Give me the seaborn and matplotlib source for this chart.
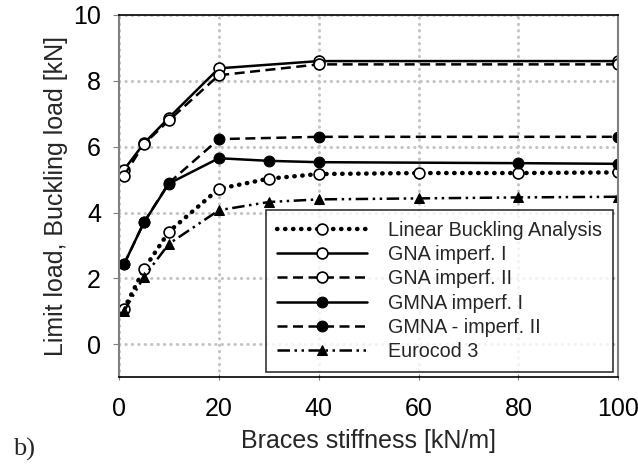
import matplotlib
matplotlib.use("Agg")
import matplotlib.pyplot as plt
import seaborn as sns
import numpy as np

sns.set_style("white")
plt.rcParams['font.family'] = ['Liberation Sans', 'DejaVu Sans']

# Data
x_lba = [1, 5, 10, 20, 30, 40, 60, 80, 100]
y_lba = [1.07, 2.28, 3.42, 4.72, 5.03, 5.17, 5.2, 5.2, 5.22]
x_gna1 = [1, 5, 10, 20, 40, 100]
y_gna1 = [5.3, 6.1, 6.88, 8.38, 8.6, 8.6]
x_gna2 = [1, 5, 10, 20, 40, 100]
y_gna2 = [5.12, 6.08, 6.8, 8.17, 8.5, 8.5]
x_gmna1 = [1, 5, 10, 20, 30, 40, 80, 100]
y_gmna1 = [2.43, 3.7, 4.88, 5.65, 5.57, 5.53, 5.5, 5.48]
x_gmna2 = [1, 5, 10, 20, 40, 100]
y_gmna2 = [2.43, 3.7, 4.9, 6.23, 6.3, 6.3]
x_ec3 = [1, 5, 10, 20, 30, 40, 60, 80, 100]
y_ec3 = [1.0, 2.05, 3.05, 4.07, 4.32, 4.4, 4.43, 4.46, 4.48]

labels = ["Linear Buckling Analysis", "GNA imperf. I", "GNA imperf. II",
          "GMNA imperf. I", "GMNA - imperf. II", "Eurocod 3"]

fig = plt.figure(figsize=(6.38, 4.68), dpi=100)
ax = fig.add_axes([0.1865, 0.194, 0.969 - 0.1865, 0.968 - 0.194])

ms = 7.8
dotted = (0, (0.1, 1.7))
series = [
    (x_lba, y_lba, dict(linestyle=dotted, lw=3.2, dash_capstyle='round', marker='o', mfc='white', mec='black', mew=1.2)),
    (x_gna1, y_gna1, dict(linestyle='-', lw=1.8, marker='o', mfc='white', mec='black', mew=1.2)),
    (x_gna2, y_gna2, dict(linestyle=(0, (4, 2.2)), lw=1.8, marker='o', mfc='white', mec='black', mew=1.2)),
    (x_gmna1, y_gmna1, dict(linestyle='-', lw=1.8, marker='o', mfc='black', mec='black')),
    (x_gmna2, y_gmna2, dict(linestyle=(0, (4, 2.2)), lw=1.8, marker='o', mfc='black', mec='black')),
    (x_ec3, y_ec3, dict(linestyle=(0, (5, 1.8, 1, 1.8, 1, 1.8)), lw=1.8, marker='^', mfc='black', mec='black')),
]

for (xs, ys, kw), lab in zip(series, labels):
    sns.lineplot(x=xs, y=ys, ax=ax, color='black', markersize=ms, label=lab, **kw)

ax.set_xlim(0, 100)
ax.set_ylim(-1, 10)
ax.set_xticks([0, 20, 40, 60, 80, 100])
ax.set_yticks([0, 2, 4, 6, 8, 10])

ax.grid(True, color='#c4c4c4', linestyle=(0, (0.1, 2.0)), lw=2.2, dash_capstyle='round')
ax.set_axisbelow(True)

for s in ['top', 'bottom']:
    ax.spines[s].set_color('black')
    ax.spines[s].set_linewidth(1.2)
for s in ['left', 'right']:
    ax.spines[s].set_color('#808080')
    ax.spines[s].set_linewidth(1.5)

ax.tick_params(axis='both', labelsize=18, colors='black')
ax.tick_params(axis='y', direction='out', length=4, color='#808080', left=True, pad=9)
ax.tick_params(axis='x', direction='inout', length=4, color='#808080', bottom=True, pad=12)

ax.set_xlabel("Braces stiffness [kN/m]", fontsize=18, labelpad=6)
ax.set_ylabel("Limit load, Buckling load [kN]", fontsize=18, labelpad=4)

leg = ax.legend(loc='lower right', bbox_to_anchor=(0.99, 0.014), fontsize=14.2,
                frameon=True, fancybox=False, edgecolor='black', handlelength=4.55,
                handletextpad=1.1, labelspacing=0.27, borderpad=0.55, borderaxespad=0.0)
leg.get_frame().set_linewidth(1.2)

fig.text(0.02, 0.026, "b)", fontsize=19, family='Liberation Serif')

fig.savefig("out.png", dpi=100)
